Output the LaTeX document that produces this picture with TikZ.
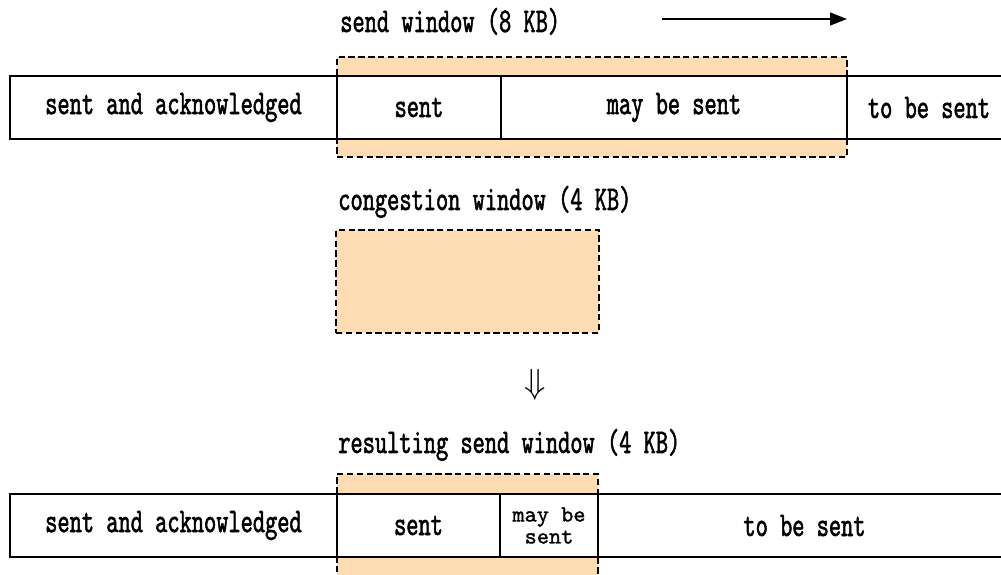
\documentclass[tikz,border=0pt]{standalone}
\usepackage{fontspec}
\usepackage{amssymb}
\usetikzlibrary{positioning}
\usetikzlibrary{arrows.meta}
\newfontfamily\winfont[Extension=.otf, FakeStretch=0.67, FakeBold=1.5]{lmmono10-regular}
\newfontfamily\winsmallfont[Extension=.otf, FakeBold=1.2]{lmmono10-regular}
\definecolor{winorange}{RGB}{254,221,180}

\begin{document}
\begin{tikzpicture}[
  cell/.style={draw, fill=white, line width=1.1pt, outer sep=0pt, inner sep=0pt,
    minimum height=1.575cm, align=center,
    font=\winfont\fontsize{24.7}{26}\selectfont},
  smallcell/.style={cell, font=\winsmallfont\fontsize{16.5}{15.6}\selectfont},
  win/.style={draw, fill=winorange, line width=1.1pt, dash pattern=on 4.5pt off 2.5pt,
    outer sep=0pt, inner sep=0pt},
  lbl/.style={anchor=base west, inner sep=0pt, font=\winfont\fontsize{24.7}{26}\selectfont}
]
\useasboundingbox (0,0) rectangle (25.025,14.375);
\begin{scope}
\clip (0,0) rectangle (25.025,14.375);

% send window (8 KB)
\node[win, minimum width=12.75cm, minimum height=2.5cm, anchor=north west] (sendwin) at (8.425,12.95) {};
\node[lbl] (sendlbl) at (8.5,13.575) {send window (8 KB)};
\coordinate (movefrom) at (16.55,13.9);
\coordinate (moveto) at (21.175,13.9);
\draw[line width=1pt, -{Triangle[length=0.42cm,width=0.32cm]}] (movefrom) -- (moveto);

\node[cell, minimum width=8.175cm, anchor=south west] (acked) at (0.25,10.9) {sent and acknowledged};
\node[cell, minimum width=4.1cm, right=0pt of acked] (sent) {sent};
\node[cell, minimum width=8.65cm, right=0pt of sent] (maysend) {may be sent};
\node[cell, minimum width=4.1cm, right=0pt of maysend] (tosend) {to be sent};

% congestion window (4 KB)
\node[lbl] (conglbl) at (8.45,9.125) {congestion window (4 KB)};
\node[win, minimum width=6.575cm, minimum height=2.575cm, anchor=north west] (congwin) at (8.4,8.625) {};

\node[inner sep=0pt, font=\fontsize{27}{27}\selectfont] (down) at (13.375,4.75) {$\Downarrow$};

% resulting send window (4 KB)
\node[lbl] (reslbl) at (8.45,3.05) {resulting send window (4 KB)};
\node[win, minimum width=6.525cm, minimum height=3.1cm, anchor=north west] (reswin) at (8.425,2.525) {};

\node[cell, minimum width=8.175cm, anchor=south west] (resacked) at (0.25,0.45) {sent and acknowledged};
\node[cell, minimum width=4.075cm, right=0pt of resacked] (ressent) {sent};
\node[smallcell, minimum width=2.45cm, right=0pt of ressent] (resmaysend) {may be\\sent};
\node[cell, minimum width=10.325cm, right=0pt of resmaysend] (restosend) {to be sent};
\end{scope}
\end{tikzpicture}
\end{document}
